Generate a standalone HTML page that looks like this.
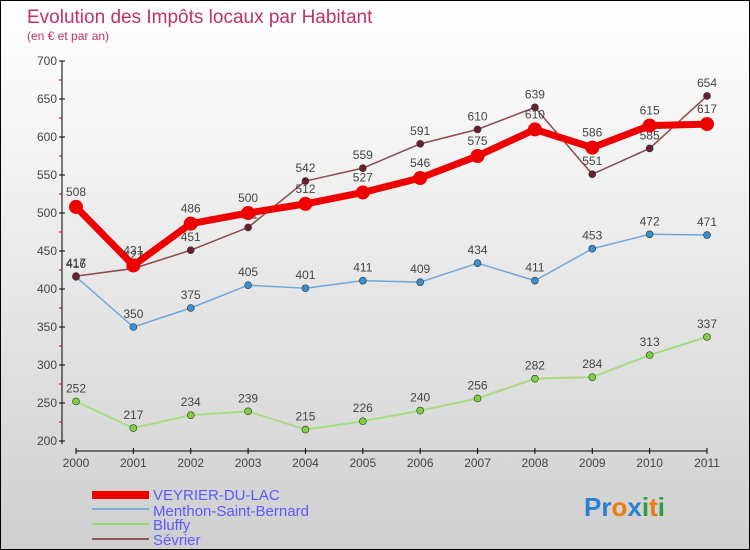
<!DOCTYPE html>
<html><head><meta charset="utf-8"><style>
body{margin:0}
#c{position:relative;width:748px;height:548px;border:1px solid #000;background:linear-gradient(#fff,#f2f2f2 30%,#cfcfcf);font-family:"Liberation Sans",sans-serif;overflow:hidden}
</style></head><body>
<div id="c">
<svg id="s" width="748" height="548" style="position:absolute;left:0;top:0">
<text x="26" y="22" font-size="19" fill="#c0306a">Evolution des Impôts locaux par Habitant</text>
<text x="26" y="39" font-size="12" fill="#c0306a">(en € et par an)</text>
<g id="axes"></g><g id="series"></g>
<g font-size="15" fill="#5a5aff">
<rect x="91" y="490" width="57" height="8" fill="#e00"/>
<text x="152" y="499">VEYRIER-DU-LAC</text>
<rect x="91" y="507" width="57" height="2" fill="#7aaed6"/>
<text x="152" y="515">Menthon-Saint-Bernard</text>
<rect x="91" y="522" width="57" height="2" fill="#9bd870"/>
<text x="152" y="529">Bluffy</text>
<rect x="91" y="537" width="57" height="2" fill="#8b5a5a"/>
<text x="152" y="544">Sévrier</text>
</g>
<text x="583" y="515" font-size="26" font-weight="bold"><tspan fill="#2a7fd0">Pr</tspan><tspan fill="#f07a10">o</tspan><tspan fill="#2a7fd0">x</tspan><tspan fill="#28a040">i</tspan><tspan fill="#f07a10">t</tspan><tspan fill="#28a040">i</tspan></text>
</svg>
</div>
<script>
const years=["2000","2001","2002","2003","2004","2005","2006","2007","2008","2009","2010","2011"];
const yTicks=[200,250,300,350,400,450,500,550,600,650,700];
const veyrier=[508,431,486,500,512,527,546,575,610,586,615,617];
const menthon=[416,350,375,405,401,411,409,434,411,453,472,471];
const bluffy=[252,217,234,239,215,226,240,256,282,284,313,337];
const sevrier=[417,427,451,481,542,559,591,610,639,551,585,654];
const NS="http://www.w3.org/2000/svg";
const X=i=>75+i*(631/11), Y=v=>440-(v-200)*0.76;
function el(t,a,p){const e=document.createElementNS(NS,t);for(const k in a)e.setAttribute(k,a[k]);p.appendChild(e);return e;}
const ax=document.getElementById('axes');
const yl=el('line',{x1:61,y1:Y(700),x2:61,y2:Y(200)+3,stroke:'#000'},ax);


yTicks.forEach(v=>{
 el('line',{x1:58,x2:64,y1:Y(v),y2:Y(v),stroke:'#000'},ax);
 if(v<700)el('line',{x1:58,x2:61,y1:Y(v+25),y2:Y(v+25),stroke:'#c00'},ax);
 const t=el('text',{x:56,y:Y(v)+4,'font-size':12,fill:'#444','text-anchor':'end'},ax);t.textContent=v;
 
 
});
const xl=el('line',{x1:X(0),x2:X(11),y1:450,y2:450,stroke:'#000'},ax);


years.forEach((y,i)=>{
 el('line',{x1:X(i),x2:X(i),y1:447,y2:453,stroke:'#000'},ax);
 const t=el('text',{x:X(i),y:466,'font-size':12,fill:'#444','text-anchor':'middle'},ax);t.textContent=y;
 
 
});
const sg=document.getElementById('series');
function draw(data,name,col,w,r,dot){
 const g=el('g',{},sg);
 
 
 const pl=el('polyline',{points:data.map((v,i)=>X(i)+','+Y(v)).join(' '),fill:'none',stroke:col,'stroke-width':w,'stroke-linejoin':'round'},g);
 
 
 data.forEach((v,i)=>{
  const c=el('circle',{cx:X(i),cy:Y(v),r:r,fill:dot,stroke:'#333','stroke-width':w>3?0:0.6},g);
  
  
  const t=el('text',{x:X(i),y:Y(v)-(w>3?11:9),'font-size':12,fill:'#444','text-anchor':'middle'},g);t.textContent=v;
  
  
 });
}
draw(bluffy,'bluffy','#a6dc80',2,3.5,'#7fd040');
draw(menthon,'menthon','#6fa8d8',1.5,3.5,'#3a8fd0');
draw(sevrier,'sevrier','#8b4a4a',1.5,3.5,'#6a1f2a');
draw(veyrier,'veyrier','#ee0000',7,7,'#ee0000');
</script>
</body></html>
